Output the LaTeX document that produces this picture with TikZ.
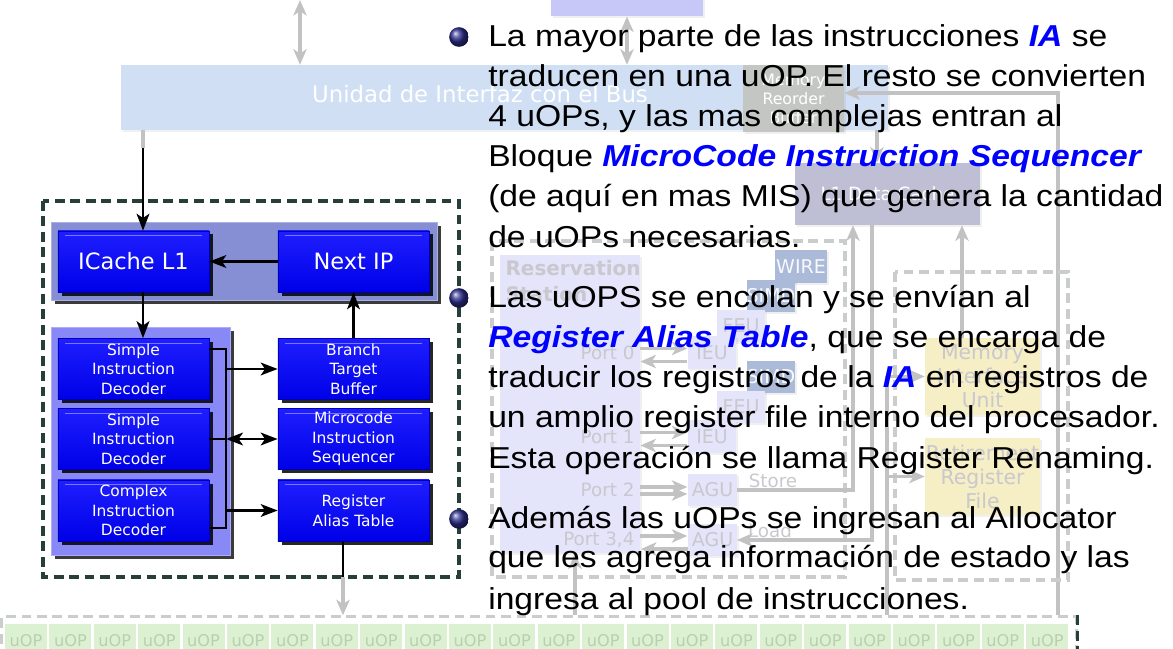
\documentclass[tikz,border=0pt]{standalone}
\usepackage{fontspec}
\setmainfont{Liberation Sans}
\newfontfamily\slidefont[FakeStretch=1.113]{Liberation Sans}
\newfontfamily\diafont{DejaVu Sans}
\usetikzlibrary{arrows.meta,shadows}

\definecolor{azulchip}{RGB}{0,0,232}
\definecolor{azulchiptop}{RGB}{30,30,255}
\definecolor{azulbrillo}{RGB}{120,120,255}
\definecolor{panelfetch}{RGB}{134,142,212}
\definecolor{paneldec}{RGB}{136,136,246}
\definecolor{marco}{RGB}{40,62,58}
\definecolor{bola}{RGB}{45,45,140}
\definecolor{busazul}{RGB}{208,223,243}
\definecolor{tlav}{RGB}{228,228,250}
\definecolor{tlavtop}{RGB}{200,200,248}
\definecolor{tgrislinea}{RGB}{194,194,194}
\definecolor{ttexto}{RGB}{200,200,206}
\definecolor{tdash}{RGB}{202,206,202}
\definecolor{tsimd}{RGB}{170,186,216}
\definecolor{tamarillo}{RGB}{246,238,196}
\definecolor{tverde}{RGB}{220,240,210}
\definecolor{tverdetxt}{RGB}{186,206,178}
\definecolor{tgris}{RGB}{196,198,196}
\definecolor{tl1}{RGB}{190,190,212}

\newcommand{\resalta}[1]{\textcolor{blue}{\textbf{\textit{#1}}}}

\tikzset{
  chip/.style={inner sep=0pt, minimum width=107.4pt, minimum height=43.4pt,
    top color=azulchiptop, bottom color=azulchip, draw=azulchip!80!black,
    text=white, align=center,
    drop shadow={shadow xshift=2.5pt, shadow yshift=-2.5pt, fill=black, opacity=0.85},
    path picture={\draw[azulbrillo, line width=0.8pt]
      ([xshift=5pt,yshift=-3.5pt]path picture bounding box.north west) --
      ([xshift=-5pt,yshift=-3.5pt]path picture bounding box.north east);}},
  chipgrande/.style={chip, font=\diafont\fontsize{16}{19}\selectfont},
  chipchico/.style={chip, font=\diafont\fontsize{11}{13.9}\selectfont},
  panel/.style={inner sep=0pt, draw=#1!70!white, fill=#1, line width=0.6pt,
    drop shadow={shadow xshift=3pt, shadow yshift=-3pt, fill=black!85, opacity=0.9}},
  flecha/.style={line width=2pt, -{Stealth[length=12pt,width=9pt,inset=3pt]}},
  flechadoble/.style={line width=2pt,
    {Stealth[length=12pt,width=9pt,inset=3pt]}-{Stealth[length=12pt,width=9pt,inset=3pt]}},
  linea/.style={line width=2pt},
  marcodash/.style={draw=marco, line width=2.2pt, dash pattern=on 7pt off 4pt},
  tenue/.style={inner sep=0pt, drop shadow={shadow xshift=1.5pt, shadow yshift=-1.5pt, opacity=0.12}},
  tenuelinea/.style={draw=tgrislinea, line width=2.2pt},
  tflecha/.style={tenuelinea, -{Stealth[length=11pt,width=9.5pt,inset=3pt]}},
  tdoble/.style={tenuelinea,
    {Stealth[length=11pt,width=9.5pt,inset=3pt]}-{Stealth[length=11pt,width=9.5pt,inset=3pt]}},
  tcaja/.style={draw=tdash, line width=2.2pt, dash pattern=on 7pt off 4pt},
  ttxt/.style={text=ttexto, font=\diafont\fontsize{13}{15}\selectfont, inner sep=1pt},
  unidad/.style={tenue, fill=tlav, minimum width=34.5pt, minimum height=23pt,
    text=ttexto, font=\diafont\fontsize{13.5}{15}\selectfont},
  simd/.style={unidad, fill=tsimd, text=white!92!tsimd},
  amarilla/.style={tenue, fill=tamarillo, minimum width=81.8pt, minimum height=54.8pt,
    text=ttexto, align=center, font=\diafont\fontsize{14.5}{17}\selectfont},
  uop/.style={inner sep=0pt, fill=tverde, minimum width=30pt, minimum height=24.5pt,
    text=tverdetxt, font=\diafont\fontsize{11.5}{13}\selectfont},
  bolita/.style={circle, inner sep=0pt, minimum size=14pt, ball color=bola},
  lineatxt/.style={inner sep=0pt, anchor=base west, font=\slidefont\fontsize{21.5}{28}\selectfont}
}

\begin{document}
\begin{tikzpicture}[x=0.025cm, y=-0.025cm]
  \useasboundingbox (0,0) rectangle (1173,649);
  \clip (0,0) rectangle (1173,649);

  % Pool de instrucciones
  \node[tcaja, minimum width=764pt, minimum height=33pt, inner sep=0pt] (pool) at (539,640) {};
  \foreach \i in {0,...,23}
    \node[uop] (uop\i) at (26+44.4*\i,641) {uOP};
  \draw[marcodash] (pool.north east) -- (pool.south east);

  % Bus
  \node[tenue, fill=tlavtop, minimum width=108pt, minimum height=16pt] (fsb) at (627,5) {};
  \node[tenue, fill=busazul, minimum width=545.6pt, minimum height=46.2pt] (bus) at (504.5,97.5) {};
  \node[text=white, font=\diafont\fontsize{16.2}{19}\selectfont] (bustxt) at (480,94) {Unidad de Interfaz con el Bus};
  \coordinate (sysbus) at (300,0);
  \draw[tdoble] (sysbus) -- (sysbus |- bus.north);
  \draw[tdoble] (fsb.south) -- (fsb.south |- bus.north);

  % Memoria
  \node[tenue, fill=tgris, minimum width=71.8pt, minimum height=47.7pt, text=white, align=center,
    font=\diafont\fontsize{11.2}{13.5}\selectfont] (mrb) at (793.5,98.5) {Memory\\Reorder\\Buffer};
  \node[tenue, fill=tl1, minimum width=131.6pt, minimum height=44.1pt, text=white,
    font=\diafont\fontsize{13}{15}\selectfont] (l1d) at (887.5,194) {L1 Data Cache};
  \coordinate (l1in) at (877,0);
  \draw[tflecha] (bus.south -| l1in) -- (l1d.north -| l1in);
  \coordinate (retx) at (1058,93);
  \draw[tflecha] (pool.north -| retx) -- (retx) -- (retx -| mrb.east);

  % Ejecucion
  \draw[tcaja] (492,241) rectangle (845,577);
  \node[tenue, fill=tlav, minimum width=99.6pt, minimum height=212pt,
    label={[anchor=north west, inner sep=4pt, align=left, text=ttexto,
      font=\diafont\bfseries\fontsize{14.2}{18.5}\selectfont]north west:Reservation\\Station}] (rs) at (570,404) {};
  \node[simd, minimum width=37pt, minimum height=23.5pt] (wire) at (801,266.5) {WIRE};
  \node[simd] (simd1) at (771,296) {SIMD};
  \node[unidad] (feu1) at (741,326) {FEU};
  \node[unidad] (ieu1) at (712,352.5) {IEU};
  \node[simd] (simd2) at (771,377) {SIMD};
  \node[unidad] (feu2) at (741,407) {FEU};
  \node[unidad] (ieu2) at (712,436.5) {IEU};
  \node[unidad] (agu1) at (712.5,490) {AGU};
  \node[unidad] (agu2) at (712.5,540) {AGU};

  % Puertos
  \foreach \u/\p in {ieu1/Port 0, ieu2/Port 1, agu1/Port 2, agu2/{Port 3,4}}
    \node[ttxt, anchor=east, xshift=-3pt] (port\u) at (rs.east |- \u.west) {\p};
  \foreach \u in {ieu1,ieu2,agu2} {
    \draw[tflecha] (rs.east |- \u.west) ++(0,-4) -- ++(47,0);
    \draw[tflecha] (\u.west) ++(0,9) -- ++(-47,0);
  }
  \draw[tflecha] (rs.east |- agu1.west) ++(0,-3) -- ++(47,0);
  \draw[tflecha] (rs.east |- agu1.west) ++(0,4) -- ++(47,0);
  \node[ttxt] (store) at (773,481) {Store};
  \node[ttxt] (load) at (770,531) {Load};
  \coordinate (storex) at (853,0);
  \draw[tflecha] (agu1.east) -- (agu1.east -| storex) -- (l1d.south -| storex);
  \coordinate (loadx) at (872,0);
  \draw[tflecha] (l1d.south -| loadx) -- (agu2.east -| loadx) -- (agu2.east);

  % Retiro
  \draw[tcaja] (895,272) rectangle (1068,580);
  \node[amarilla] (miu) at (982.5,376.5) {Memory\\Interface\\Unit};
  \node[amarilla] (rrf) at (982.5,476.5) {Retirement\\Register\\File};
  \coordinate (miux) at (962,0);
  \draw[tflecha] (miu.north -| miux) -- (l1d.south -| miux);
  \coordinate (commitx) at (887,0);
  \draw[tenuelinea] (pool.north -| commitx) -- (miu.west -| commitx);
  \draw[tflecha] (miu.west -| commitx) -- (miu.west);
  \draw[tflecha] (rrf.west -| commitx) -- (rrf.west);
  \coordinate (dispx) at (575,0);
  \draw[tflecha] (pool.north -| dispx) -- (rs.south -| dispx);

  % Front end
  \draw[marcodash] (43,201) rectangle (459,577);
  \node[panel=panelfetch, minimum width=274.6pt, minimum height=55.5pt] (fetch) at (244,261) {};
  \node[panel=paneldec, minimum width=127.3pt, minimum height=162.2pt] (deco) at (140.5,441) {};
  \node[chipgrande] (icache) at (133.5,261.5) {ICache L1};
  \node[chipgrande] (nextip) at (353.5,261.5) {Next IP};
  \node[chipchico] (dec1) at (133.5,369) {Simple\\Instruction\\Decoder};
  \node[chipchico] (dec2) at (133.5,439) {Simple\\Instruction\\Decoder};
  \node[chipchico] (dec3) at (133.5,510.5) {Complex\\Instruction\\Decoder};
  \node[chipchico] (btb) at (353.5,369) {Branch\\Target\\Buffer};
  \node[chipchico] (mis) at (353.5,439) {Microcode\\Instruction\\Sequencer};
  \node[chipchico] (rat) at (353.5,510.5) {Register\\Alias Table};

  % Conexiones
  \coordinate (fetchx) at (143,148);
  \draw[tenuelinea] (bus.south -| fetchx) -- (fetchx);
  \draw[flecha] (fetchx) -- (icache.north -| fetchx);
  \draw[flecha] (nextip.west) -- (icache.east);
  \draw[flecha] (icache.south -| fetchx) -- (dec1.north -| fetchx);
  \draw[flecha] (btb.north) -- (nextip.south);
  \coordinate (brtop) at (226,349);
  \coordinate (brbot) at (226,528);
  \draw[linea] (dec1.east |- brtop) -- (brtop) -- (brbot) -- (dec3.east |- brbot);
  \draw[linea] (dec2.east) -- (dec2.east -| brtop);
  \draw[flecha] (btb.west -| brtop) -- (btb.west);
  \draw[flechadoble] (mis.west -| brtop) -- (mis.west);
  \draw[flecha] (rat.west -| brtop) -- (rat.west);
  \coordinate (ratx) at (343,577);
  \draw[linea] (rat.south -| ratx) -- (ratx);
  \draw[tflecha] (ratx) -- (pool.north -| ratx);

  % Texto
  \node[bolita] (bola1) at (459,37) {};
  \node[bolita] (bola2) at (459,298) {};
  \node[bolita] (bola3) at (459,519) {};
  \foreach \y/\t [count=\i] in {
      47/{La mayor parte de las instrucciones \resalta{IA} se},
      87/{traducen en una uOP. El resto se convierten},
      127/{4 uOPs, y las mas complejas entran al},
      167/{Bloque \resalta{MicroCode Instruction Sequencer}},
      207/{(de aquí en mas MIS) que genera la cantidad},
      248/{de uOPs necesarias.},
      308/{Las uOPS se encolan y se envían al},
      348/{\resalta{Register Alias Table}, que se encarga de},
      388/{traducir los registros de la \resalta{IA} en registros de},
      428/{un amplio register file interno del procesador.},
      469/{Esta operación se llama Register Renaming.},
      528/{Además las uOPs se ingresan al Allocator},
      568/{que les agrega información de estado y las},
      609/{ingresa al pool de instrucciones.}}
    \node[lineatxt] (txt\i) at (488,\y) {\t};
\end{tikzpicture}
\end{document}
